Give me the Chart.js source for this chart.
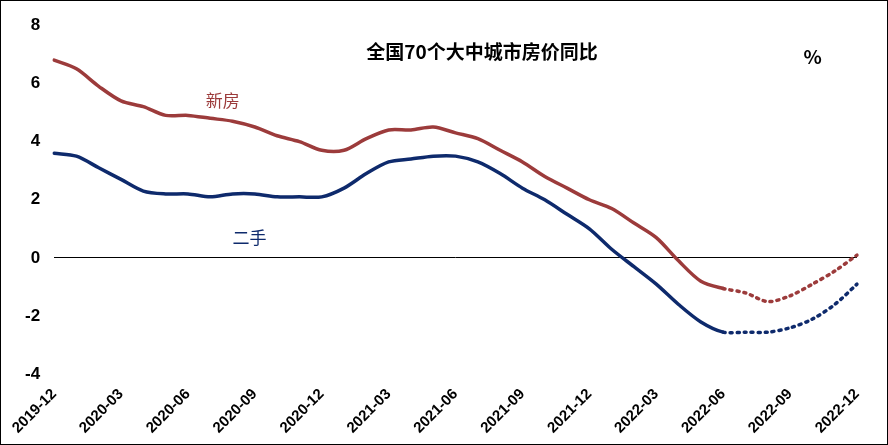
<!DOCTYPE html>
<html><head><meta charset="utf-8">
<script src="https://cdn.jsdelivr.net/npm/chart.js@4"></script>
<style>body{margin:0;background:#fff}#w{width:886px;height:443px;border:1px solid #000;position:relative}</style>
</head><body><div id="w"><canvas id="c" width="886" height="443"></canvas></div>
<script>
const labels=[];for(let y=2019,m=12;!(y===2023&&m===1);){labels.push(y+'-'+String(m).padStart(2,'0'));m++;if(m>12){m=1;y++;}}
const newHouse=[6.8,6.5,5.9,5.4,5.2,4.9,4.9,4.8,4.7,4.5,4.2,4.0,3.7,3.7,4.1,4.4,4.4,4.5,4.3,4.1,3.7,3.3,2.8,2.4,2.0,1.7,1.2,0.7,-0.1,-0.8,-1.05,-1.2,-1.5,-1.3,-0.9,-0.45,0.1];
const secondHand=[3.6,3.5,3.1,2.7,2.3,2.2,2.2,2.1,2.2,2.2,2.1,2.1,2.1,2.4,2.9,3.3,3.4,3.5,3.5,3.3,2.9,2.4,2.0,1.5,1.0,0.3,-0.3,-0.9,-1.6,-2.2,-2.55,-2.55,-2.55,-2.4,-2.1,-1.6,-0.9];
const solidEnd=30;
const yTicks=[-4,-2,0,2,4,6,8];
const RED='#9C3B3B',NAVY='#0E2A6C';
const notes={id:'notes',afterDatasetsDraw(ch){const c=ch.ctx,x=ch.scales.x,y=ch.scales.y;c.save();c.textBaseline='middle';
c.font='bold 19px "Noto Sans CJK SC"';c.fillStyle='#000';c.fillText('全国70个大中城市房价同比',x.getPixelForValue(14),y.getPixelForValue(7.1));
c.fillText('%',x.getPixelForValue(33.6),y.getPixelForValue(6.9));
c.font='17px "Noto Sans CJK SC"';c.fillStyle=RED;c.fillText('新房',x.getPixelForValue(6.8),y.getPixelForValue(5.4));
c.fillStyle=NAVY;c.fillText('二手',x.getPixelForValue(8),y.getPixelForValue(0.7));c.restore();}};
const seg=()=>({borderDash:c=>c.p0DataIndex>=solidEnd?[2,5]:undefined});
new Chart(document.getElementById('c'),{type:'line',data:{labels,datasets:[
{data:newHouse,borderColor:RED,borderWidth:3.5,pointRadius:0,tension:0.3,segment:seg(),borderCapStyle:'round'},
{data:secondHand,borderColor:NAVY,borderWidth:3.5,pointRadius:0,tension:0.3,segment:seg(),borderCapStyle:'round'}]},
plugins:[notes],
options:{responsive:false,animation:false,devicePixelRatio:1,layout:{padding:{left:10,right:30,top:18,bottom:4}},
plugins:{legend:{display:false},tooltip:{enabled:false}},
scales:{x:{offset:false,grid:{display:false},border:{display:false},ticks:{autoSkip:false,maxRotation:45,minRotation:45,color:'#000',font:{size:15,weight:'bold',family:'Liberation Sans'},callback:(v,i)=>i%3===0?labels[i]:''}},
y:{min:-4,max:8,afterBuildTicks:a=>{a.ticks=yTicks.map(v=>({value:v}))},border:{display:false},grid:{drawTicks:false,color:c=>c.tick.value===0?'#000':'transparent',lineWidth:1},ticks:{autoSkip:false,color:'#000',padding:14,font:{size:17,weight:'bold',family:'Liberation Sans'}}}}}});
</script></body></html>
